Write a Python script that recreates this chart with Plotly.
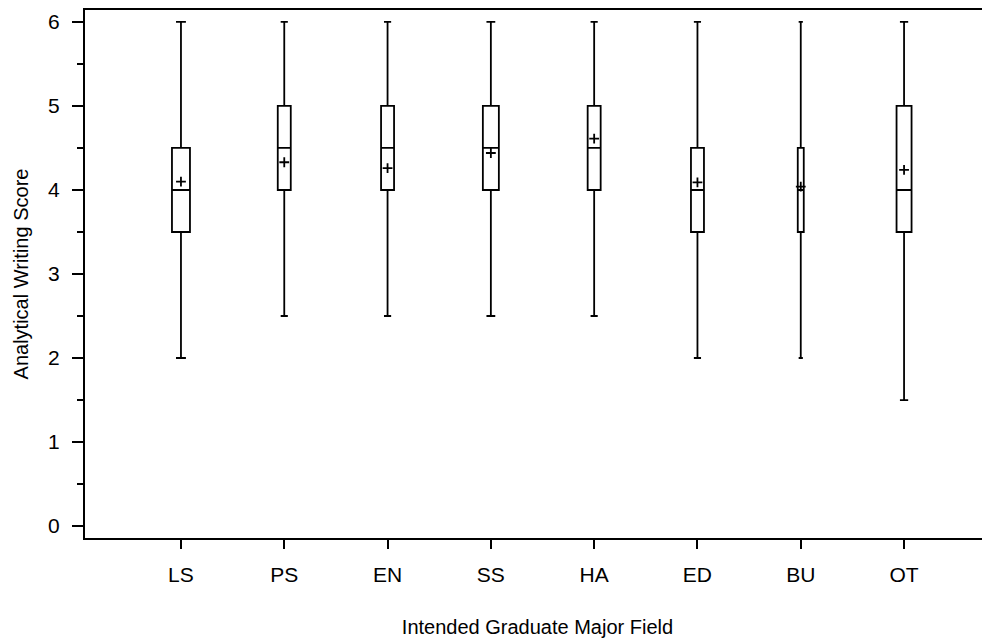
import plotly.graph_objects as go

categories = ["LS", "PS", "EN", "SS", "HA", "ED", "BU", "OT"]
minimum = [2.0, 2.5, 2.5, 2.5, 2.5, 2.0, 2.0, 1.5]
q1 = [3.5, 4.0, 4.0, 4.0, 4.0, 3.5, 3.5, 3.5]
median = [4.0, 4.5, 4.5, 4.5, 4.5, 4.0, 4.0, 4.0]
q3 = [4.5, 5.0, 5.0, 5.0, 5.0, 4.5, 4.5, 5.0]
maximum = [6.0, 6.0, 6.0, 6.0, 6.0, 6.0, 6.0, 6.0]
mean = [4.10, 4.33, 4.26, 4.44, 4.61, 4.09, 4.04, 4.24]

# style: box widths in pixels (as drawn in reference)
box_px = [18, 13, 13, 16, 13, 13, 6, 15]
px_per_cat = 103.29

fig = go.Figure()
xs = list(range(len(categories)))
for i, c in enumerate(categories):
    fig.add_trace(go.Box(
        x=[i], q1=[q1[i]], median=[median[i]], q3=[q3[i]],
        lowerfence=[minimum[i]], upperfence=[maximum[i]],
        width=box_px[i] / px_per_cat,
        whiskerwidth=0.55 if box_px[i] > 8 else 0.7,
        fillcolor="white",
        line=dict(color="black", width=1.8),
        boxpoints=False, showlegend=False, hoverinfo="skip",
        name=c,
    ))

fig.add_trace(go.Scatter(
    x=xs, y=mean, mode="markers",
    marker=dict(symbol="cross-thin", size=7, color="black",
                line=dict(color="black", width=1.8)),
    showlegend=False, hoverinfo="skip",
))

font = "Liberation Sans, Arial, sans-serif"
fig.update_layout(
    width=982, height=636,
    margin=dict(l=77, r=0, t=0, b=106),
    paper_bgcolor="white", plot_bgcolor="white",
    font=dict(family=font, color="black", size=21),
    xaxis=dict(
        range=[-0.929, 7.832], tickmode="array", tickvals=xs, ticktext=categories,
        showline=True, linecolor="black", linewidth=2, mirror=True,
        ticks="outside", ticklen=9, tickwidth=1.8, tickcolor="black",
        ticklabelstandoff=8,
        showgrid=False, zeroline=False,
        title=dict(text="Intended Graduate Major Field", font=dict(size=20), standoff=35),
        tickfont=dict(size=21),
    ),
    yaxis=dict(
        range=[-0.142, 6.142], tickmode="array", tickvals=[0, 1, 2, 3, 4, 5, 6],
        showline=True, linecolor="black", linewidth=2,
        ticks="outside", ticklen=11, tickwidth=1.8, tickcolor="black",
        ticklabelstandoff=8,
        minor=dict(tickvals=[0.5, 1.5, 2.5, 3.5, 4.5, 5.5], ticks="outside",
                   ticklen=6, tickwidth=1.8, tickcolor="black", showgrid=False),
        showgrid=False, zeroline=False,
        title=dict(text="Analytical Writing Score", font=dict(size=20), standoff=14),
        tickfont=dict(size=21),
    ),
)

fig.write_html("out.html")
